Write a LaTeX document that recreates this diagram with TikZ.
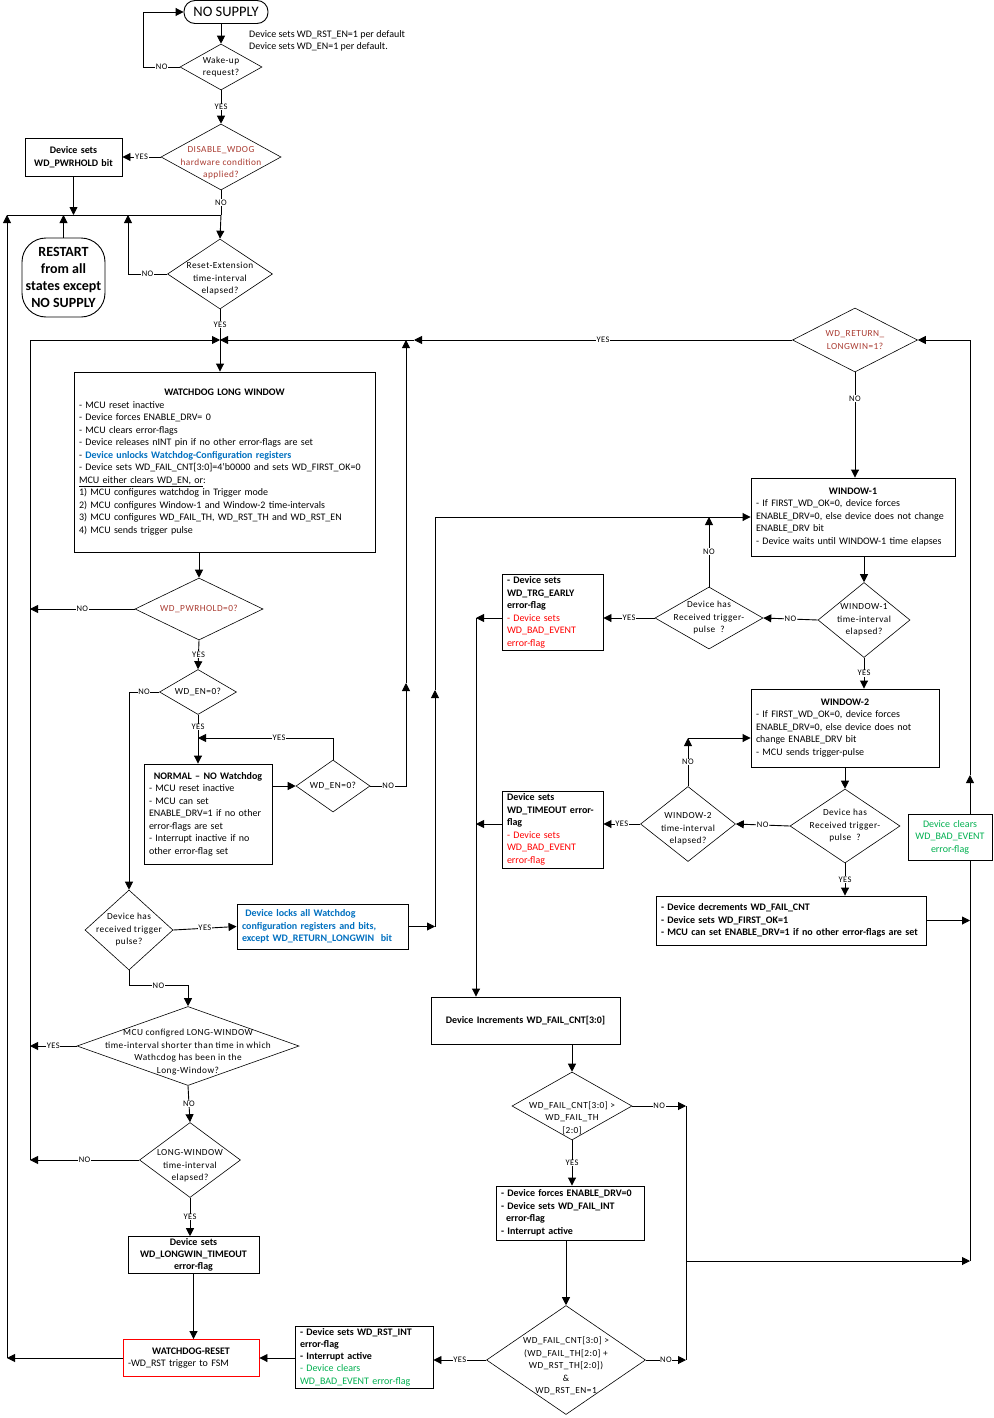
\documentclass[tikz,border=0pt]{standalone}
\usepackage{fontspec}
\setmainfont{Carlito}
\newfontfamily\dfont[LetterSpace=5]{Carlito}
\usetikzlibrary{shapes.geometric,arrows.meta}
\definecolor{wdred}{RGB}{170,60,50}
\definecolor{wdblue}{RGB}{0,112,192}
\definecolor{wdgreen}{RGB}{0,176,80}

\begin{document}
\begin{tikzpicture}[x=1pt,y=-1pt,
    box/.style={draw,line width=0.9pt,inner xsep=5pt,inner ysep=2pt,align=left,
                font=\fontsize{10}{12.5}\selectfont},
    dec/.style={diamond,draw,line width=0.6pt,inner sep=0pt},
    dtx/.style={align=center,inner sep=0pt,font=\dfont\fontsize{9.3}{12.5}\selectfont},
    term/.style={draw,line width=0.9pt,rounded corners=#1,align=center,inner sep=0pt},
    flow/.style={-{Triangle[length=8pt,width=8pt]},line width=0.9pt},
    lbl/.style={fill=white,inner sep=0.6pt,font=\dfont\fontsize{8.5}{9}\selectfont},
  ]
    \fill[white] (0,0) rectangle (993,1418);
    \useasboundingbox (0,0) rectangle (993,1418);

    % Power-up
    \node[term=11pt,minimum width=84pt,minimum height=23pt,
          font=\fontsize{14.5}{16}\selectfont] (nosup) at (226,12) {NO SUPPLY};
    \node[anchor=west,align=left,inner sep=0pt,font=\fontsize{10}{12}\selectfont]
      (note) at (249,41) {Device sets WD\_RST\_EN=1 per default\\Device sets WD\_EN=1 per default.};
    \node[dec,minimum width=82pt,minimum height=46pt,
          label={[dtx]center:{Wake-up\\request?}}] (wake) at (221,67) {};
    \node[dec,minimum width=120pt,minimum height=66pt,
          label={[dtx,text=wdred,yshift=-6pt]center:{DISABLE\_WDOG\\hardware condition\\applied?}}]
      (dis) at (221,157) {};
    \node[box,align=center,text width=87pt,minimum height=38pt] (pwr) at (73.5,157)
      {\bfseries Device sets\\WD\_PWRHOLD bit};
    \node[term=24pt,minimum width=83pt,minimum height=79pt,
          font=\bfseries\fontsize{14}{16.7}\selectfont] (restart) at (63.5,277.5)
      {RESTART\\from all\\states except\\NO SUPPLY};
    \node[dec,minimum width=105pt,minimum height=70pt,
          label={[dtx,yshift=-5pt]center:{Reset-Extension\\time-interval\\elapsed?}}]
      (rext) at (220,274) {};

    % Long window
    \node[box,text width=291pt,minimum height=180pt] (lw) at (224.5,462)
      {\makebox[291pt]{\textbf{WATCHDOG LONG WINDOW}}\\
       - MCU reset inactive\\
       - Device forces ENABLE\_DRV= 0\\
       - MCU clears error-flags\\
       - Device releases nINT pin if no other error-flags are set\\
       - \textcolor{wdblue}{\textbf{Device unlocks Watchdog-Configuration registers}}\\
       - Device sets WD\_FAIL\_CNT[3:0]=4'b0000 and sets WD\_FIRST\_OK=0\\
       \underline{MCU either clears WD\_EN, or}:\\
       1) MCU configures watchdog in Trigger mode\\
       2) MCU configures Window-1 and Window-2 time-intervals\\
       3) MCU configures WD\_FAIL\_TH, WD\_RST\_TH and WD\_RST\_EN\\
       4) MCU sends trigger pulse};
    \node[dec,minimum width=128pt,minimum height=62pt,
          label={[dtx,text=wdred]center:{WD\_PWRHOLD=0?}}] (pwr0) at (199,609) {};
    \node[dec,minimum width=77pt,minimum height=45pt,
          label={[dtx]center:{WD\_EN=0?}}] (en1) at (198,692) {};
    \node[box,text width=118pt,minimum height=100pt] (normal) at (208,814)
      {\makebox[118pt]{\textbf{NORMAL -- NO Watchdog}}\\
       - MCU reset inactive\\
       - MCU can set\\
       ENABLE\_DRV=1 if no other\\
       error-flags are set\\
       - Interrupt inactive if no\\
       other error-flag set};
    \node[dec,minimum width=74pt,minimum height=52pt,
          label={[dtx]center:{WD\_EN=0?}}] (en2) at (333,786) {};
    \node[dec,minimum width=88pt,minimum height=80pt,
          label={[dtx]center:{Device has\\received trigger\\pulse?}}] (trig) at (129,930) {};
    \node[box,text width=161pt,minimum height=45pt,text=wdblue] (lock) at (322.5,926.5)
      {\bfseries\ Device locks all Watchdog\\configuration registers and bits,\\except WD\_RETURN\_LONGWIN\ \ bit};
    \node[dec,minimum width=222pt,minimum height=79pt,
          label={[dtx,yshift=-6pt]center:{MCU configred LONG-WINDOW\\time-interval shorter than time in which\\Wathcdog has been in the\\Long-Window?}}]
      (mcu) at (188,1046) {};
    \node[dec,minimum width=101pt,minimum height=75pt,
          label={[dtx,yshift=-6pt]center:{LONG-WINDOW\\time-interval\\elapsed?}}] (lwin) at (190,1160) {};
    \node[box,align=center,text width=121pt,minimum height=36pt,
          font=\bfseries\fontsize{10}{12}\selectfont] (lto) at (193.5,1255)
      {Device sets\\WD\_LONGWIN\_TIMEOUT\\error-flag};
    \node[box,draw=red,text width=126pt,minimum height=37pt] (rst) at (191,1358)
      {\makebox[126pt]{\textbf{WATCHDOG-RESET}}\\-WD\_RST trigger to FSM};
    \node[box,text width=128pt,minimum height=61pt,
          font=\fontsize{10}{12.3}\selectfont] (rstint) at (364,1357)
      {\textbf{- Device sets WD\_RST\_INT}\\\textbf{error-flag}\\\textbf{- Interrupt active}\\
       \textcolor{wdgreen}{- Device clears}\\\textcolor{wdgreen}{WD\_BAD\_EVENT error-flag}};

    % Fail counter
    \node[dec,minimum width=159pt,minimum height=109pt,
          label={[dtx,yshift=-6pt]center:{WD\_FAIL\_CNT[3:0] >\\(WD\_FAIL\_TH[2:0] +\\WD\_RST\_TH[2:0])\\\&\\WD\_RST\_EN=1}}]
      (fin) at (566,1360) {};
    \node[box,text width=138pt,minimum height=54pt] (force) at (570,1213)
      {\bfseries - Device forces ENABLE\_DRV=0\\- Device sets WD\_FAIL\_INT\\\hspace*{5pt}error-flag\\- Interrupt active};
    \node[dec,minimum width=120pt,minimum height=68pt,
          label={[dtx,yshift=-12pt]center:{WD\_FAIL\_CNT[3:0] >\\WD\_FAIL\_TH\\{}[2:0]}}]
      (fth) at (572,1106) {};
    \node[box,align=center,text width=179pt,minimum height=47pt] (inc) at (525.5,1020.5)
      {\bfseries Device Increments WD\_FAIL\_CNT[3:0]};

    % Trigger windows
    \node[box,text width=91pt,minimum height=75pt] (early) at (552.5,612.5)
      {\textbf{- Device sets}\\\textbf{WD\_TRG\_EARLY}\\\textbf{error-flag}\\
       \textcolor{red}{- Device sets}\\\textcolor{red}{WD\_BAD\_EVENT}\\\textcolor{red}{error-flag}};
    \node[dec,minimum width=108pt,minimum height=62pt,
          label={[dtx]center:{Device has\\Received trigger-\\pulse\ \ ?}}] (trig1) at (709,618) {};
    \node[box,text width=194pt,minimum height=78pt] (w1) at (853,517)
      {\makebox[194pt]{\textbf{WINDOW-1}}\\
       - If FIRST\_WD\_OK=0, device forces\\
       ENABLE\_DRV=0, else device does not change\\
       ENABLE\_DRV bit\\
       - Device waits until WINDOW-1 time elapses};
    \node[dec,minimum width=92pt,minimum height=75pt,
          label={[dtx]center:{WINDOW-1\\time-interval\\elapsed?}}] (w1e) at (864,620) {};
    \node[box,text width=178pt,minimum height=78pt] (w2) at (845,728)
      {\makebox[178pt]{\textbf{WINDOW-2}}\\
       - If FIRST\_WD\_OK=0, device forces\\
       ENABLE\_DRV=0, else device does not\\
       change ENABLE\_DRV bit\\
       - MCU sends trigger-pulse};
    \node[dec,minimum width=110pt,minimum height=74pt,
          label={[dtx]center:{Device has\\Received trigger-\\pulse\ \ ?}}] (trig2) at (845,826) {};
    \node[dec,minimum width=95pt,minimum height=75pt,
          label={[dtx,yshift=-5pt]center:{WINDOW-2\\time-interval\\elapsed?}}] (w2e) at (688,824) {};
    \node[box,text width=91pt,minimum height=77pt] (tmo) at (552.5,829.5)
      {\textbf{Device sets}\\\textbf{WD\_TIMEOUT error-}\\\textbf{flag}\\
       \textcolor{red}{- Device sets}\\\textcolor{red}{WD\_BAD\_EVENT}\\\textcolor{red}{error-flag}};
    \node[box,text width=260pt,minimum height=49pt] (dcr) at (791,920.5)
      {\bfseries - Device decrements WD\_FAIL\_CNT\\- Device sets WD\_FIRST\_OK=1\\
       - MCU can set ENABLE\_DRV=1 if no other error-flags are set};
    \node[box,align=center,text width=74pt,minimum height=46pt,text=wdgreen] (grn) at (950,837)
      {Device clears\\WD\_BAD\_EVENT\\error-flag};
    \node[dec,minimum width=125pt,minimum height=64pt,
          label={[dtx,text=wdred]center:{WD\_RETURN\_\\LONGWIN=1?}}] (ret) at (855,340) {};

    % Bend points
    \coordinate (busL) at (7,215);
    \coordinate (bus) at (221,215);
    \coordinate (railA) at (7,1358);
    \coordinate (jn) at (220,340);
    \coordinate (railBtop) at (30,340);
    \coordinate (railBbot) at (30,1160);
    \coordinate (upA) at (406,683);
    \coordinate (upAtop) at (406,340);
    \coordinate (retmid) at (414,340);
    \coordinate (upBbot) at (435,926.5);
    \coordinate (upB) at (435,690);
    \coordinate (upBtop) at (435,517);
    \coordinate (yes738) at (198,738);
    \coordinate (no738) at (688,738);
    \coordinate (up518) at (709,517);
    \coordinate (fl) at (476,618);
    \coordinate (r686a) at (686,1106);
    \coordinate (r686b) at (686,1360);
    \coordinate (r686c) at (686,1261);
    \coordinate (r970c) at (970,1261);
    \coordinate (r970up) at (970,775);
    \coordinate (r970top) at (970,340);

    % Connectors - left side
    \draw[flow] (wake.west) -- node[lbl]{NO} ++(-36,0) |- (nosup.west);
    \draw[flow] (wake.north |- nosup.south) -- (wake.north);
    \draw[flow] (wake.south) -- node[lbl]{YES} (dis.north);
    \draw[flow] (dis.west) -- node[lbl]{YES} (pwr.east);
    \draw[flow] (pwr.south) -- (pwr.south |- bus);
    \draw (dis.south) -- node[lbl]{NO} (bus);
    \draw[line width=0.9pt] (busL) -- (bus);
    \draw[flow] (bus) -- (rext.north);
    \draw[flow] (restart.north) -- (restart.north |- bus);
    \draw[flow] (rext.west) -- node[lbl]{NO} (rext.west -| 128,0) -- (128,215);
    \draw[line width=0.9pt] (rext.south) -- node[lbl]{YES} (jn);
    \draw[flow] (jn) -- (lw.north -| jn);
    \draw[flow] (railBbot) -- (railBtop) -- (jn);
    \draw[flow] (lw.south -| pwr0.north) -- (pwr0.north);
    \draw[flow] (pwr0.west) -- node[lbl]{NO} (pwr0.west -| railBtop);
    \draw[flow] (pwr0.south) -- node[lbl]{YES} (en1.north);
    \draw[flow] (en1.west) -- node[lbl]{NO} (en1.west -| trig.north) -- (trig.north);
    \draw[flow] (en1.south) -- node[lbl,pos=0.25]{YES} (en1.south |- normal.north);
    \draw[flow] (normal.east |- en2.west) -- (en2.west);
    \draw[flow] (en2.north) |- node[lbl,pos=0.7]{YES} (yes738);
    \draw[flow] (en2.east) -- node[lbl]{NO} (en2.east -| upA) -- (upA);
    \draw[flow] (upA) -- (upAtop);
    \draw[flow] (trig.east) -- node[lbl]{YES} (lock.west);
    \draw[flow] (lock.east) -- (upBbot);
    \draw[flow] (upBbot) -- (upB);
    \draw[flow] (upB) -- (upBtop) -- (w1.west);
    \draw[flow] (trig.south) -- ++(0,15) -| node[lbl,pos=0.25]{NO} (mcu.north);
    \draw[flow] (mcu.west) -- node[lbl]{YES} (mcu.west -| railBtop);
    \draw[flow] (mcu.south) -- node[lbl]{NO} (lwin.north);
    \draw[flow] (lwin.west) -- node[lbl]{NO} (railBbot);
    \draw[flow] (lwin.south) -- node[lbl]{YES} (lwin.south |- lto.north);
    \draw[flow] (lto.south) -- (lto.south |- rst.north);
    \draw[flow] (rst.west) -- (railA);
    \draw[flow] (railA) -- (busL);
    \draw[flow] (rstint.west |- rst.east) -- (rst.east);

    % Connectors - right side
    \draw[flow] (ret.west) -- node[lbl]{YES} (retmid);
    \draw[flow] (retmid) -- (jn);
    \draw[flow] (ret.south) -- node[lbl,pos=0.25]{NO} (ret.south |- w1.north);
    \draw[flow] (w1.south -| w1e.north) -- (w1e.north);
    \draw[flow] (w1e.west) -- node[lbl]{NO} (trig1.east);
    \draw[flow] (w1e.south) -- node[lbl]{YES} (w1e.south |- w2.north);
    \draw[flow] (trig1.north) -- node[lbl]{NO} (up518);
    \draw[flow] (trig1.west) -- node[lbl]{YES} (early.east |- trig1.west);
    \draw[flow] (early.west |- trig1.west) -- (fl);
    \draw[flow] (w2.south -| trig2.north) -- (trig2.north);
    \draw[flow] (trig2.west) -- node[lbl]{NO} (w2e.east);
    \draw[flow] (trig2.south) -- node[lbl]{YES} (trig2.south |- dcr.north);
    \draw[flow] (w2e.north) -- node[lbl]{NO} (no738);
    \draw[flow] (no738) -- (w2.west |- no738);
    \draw[flow] (w2e.west) -- node[lbl]{YES} (tmo.east |- w2e.west);
    \draw[flow] (tmo.west |- w2e.west) -- (fl |- w2e.west);
    \draw[flow] (fl) -- (fl |- inc.north);
    \draw[flow] (inc.south -| fth.north) -- (fth.north);
    \draw[flow] (fth.east) -- node[lbl]{NO} (r686a);
    \draw[flow] (fth.south) -- node[lbl]{YES} (fth.south |- force.north);
    \draw[flow] (force.south -| fin.north) -- (fin.north);
    \draw[flow] (fin.east) -- node[lbl]{NO} (r686b);
    \draw[flow] (fin.west) -- node[lbl]{YES} (rstint.east |- fin.west);
    \draw[line width=0.9pt] (r686a) -- (r686b);
    \draw[flow] (r686c) -- (r970c);
    \draw[flow] (dcr.east) -- (dcr.east -| r970c);
    \draw[line width=0.9pt] (r970c) -- (r970c |- grn.south);
    \draw[flow] (r970c |- grn.north) -- (r970up);
    \draw[flow] (r970up) -- (r970top) -- (ret.east);
  \end{tikzpicture}
\end{document}
